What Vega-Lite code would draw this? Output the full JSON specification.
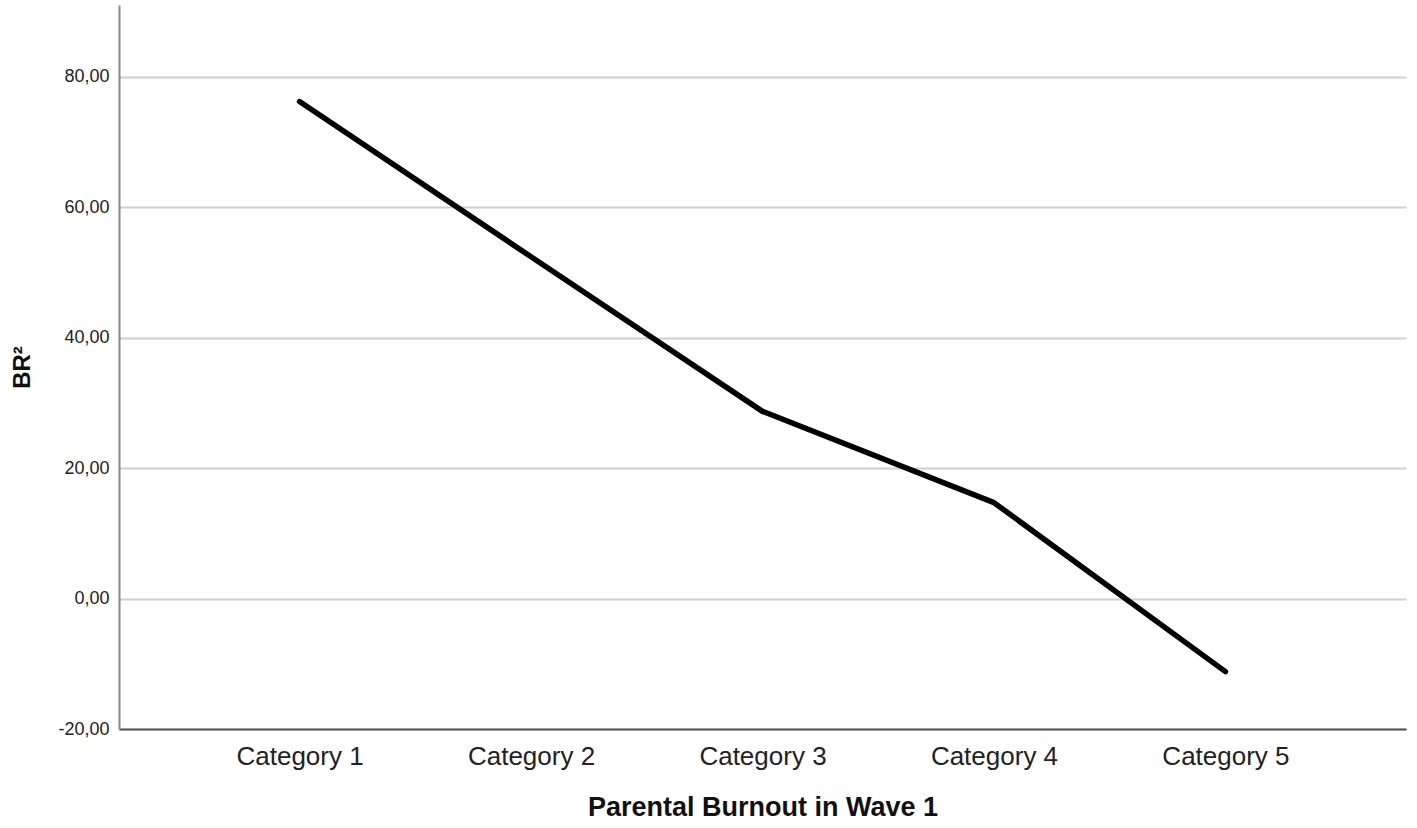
{
  "$schema": "https://vega.github.io/schema/vega-lite/v6.json",
  "autosize": {"type": "none"},
  "width": 1287,
  "height": 724,
  "padding": {"left": 119, "top": 5, "right": 11, "bottom": 99},
  "background": "white",
  "config": {
    "view": {"stroke": null},
    "font": "Liberation Sans"
  },
  "data": {
    "values": [
      {"category": "Category 1", "value": 76.2},
      {"category": "Category 2", "value": 52.4},
      {"category": "Category 3", "value": 28.7},
      {"category": "Category 4", "value": 14.7},
      {"category": "Category 5", "value": -11.2}
    ]
  },
  "mark": {"type": "line", "color": "black", "strokeWidth": 5.5, "strokeCap": "round", "strokeJoin": "round"},
  "encoding": {
    "x": {
      "field": "category",
      "type": "ordinal",
      "scale": {"type": "point", "padding": 0.78},
      "axis": {
        "title": "Parental Burnout in Wave 1",
        "titleFont": "Liberation Sans",
        "titleFontSize": 27,
        "titleFontWeight": "bold",
        "titleColor": "#111",
        "titlePadding": 25,
        "labelFont": "Liberation Sans",
        "labelFontSize": 26,
        "labelColor": "#222",
        "labelAngle": 0,
        "labelPadding": 14,
        "ticks": false,
        "domainColor": "#555",
        "domainWidth": 2,
        "grid": false
      }
    },
    "y": {
      "field": "value",
      "type": "quantitative",
      "scale": {"domain": [-20, 91], "nice": false, "zero": false},
      "axis": {
        "title": "BR²",
        "titleFont": "Liberation Sans",
        "titleFontSize": 24,
        "titleFontWeight": "bold",
        "titleColor": "#111",
        "titlePadding": 23,
        "values": [-20, 0, 20, 40, 60, 80],
        "labelExpr": "replace(replace(format(datum.value, '.2f'), '.', ','), '\u2212', '-')",
        "labelFont": "Liberation Sans",
        "labelFontSize": 18,
        "labelColor": "#222",
        "labelPadding": 10,
        "ticks": false,
        "domainColor": "#888",
        "domainWidth": 2,
        "grid": true,
        "gridColor": "#cfcfcf",
        "gridWidth": 2
      }
    }
  }
}
